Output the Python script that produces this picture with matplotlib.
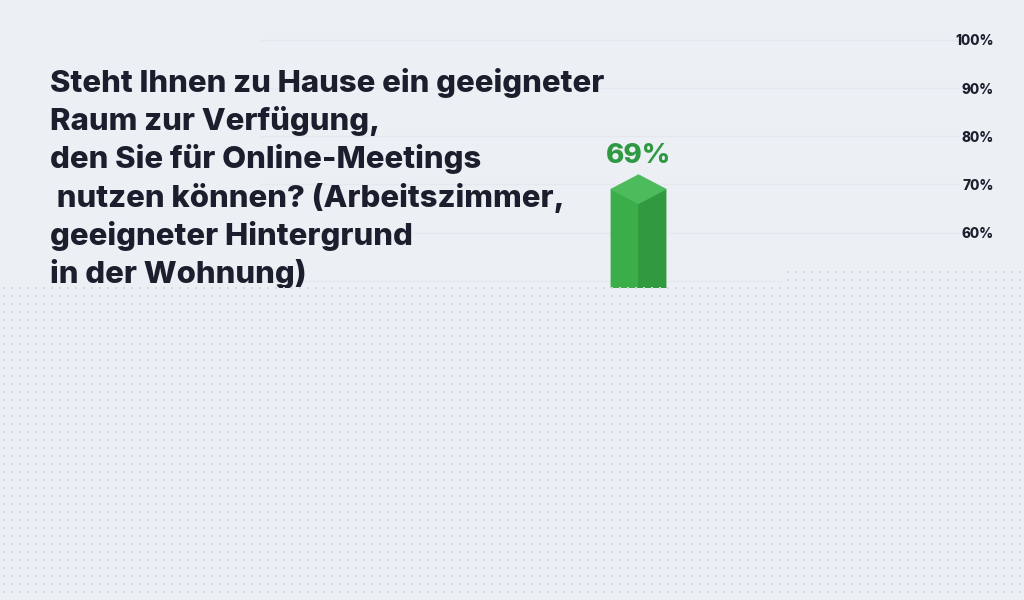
import matplotlib
matplotlib.use("Agg")
import matplotlib.pyplot as plt
from matplotlib.patches import Polygon
import numpy as np

# data
title_lines = [
    "Steht Ihnen zu Hause ein geeigneter",
    "Raum zur Verfügung,",
    "den Sie für Online-Meetings",
    " nutzen können? (Arbeitszimmer,",
    "geeigneter Hintergrund",
    "in der Wohnung)",
]
categories = ["Ja"]
values = [69]
y_ticks = [50, 60, 70, 80, 90, 100]
y_tick_labels = [f"{t}%" for t in y_ticks]

BG = "#eceff4"
DARK = "#1b1e2c"
FRONT = "#3bae4a"
SIDE = "#31993e"
TOP = "#4cbb5b"
LABEL = "#2f9843"
FONT = "Inter"

W, H = 1024, 600
fig = plt.figure(figsize=(W / 100, H / 100), dpi=100, facecolor=BG)


def px_box(x0, y0, x1, y1):
    # pixel box (top-left origin) -> figure fraction rect
    return [x0 / W, 1 - y1 / H, (x1 - x0) / W, (y1 - y0) / H]


# main chart axes
ax = fig.add_axes(px_box(260, 0, 960, 288), zorder=1)
ax.set_facecolor("none")
ax.set_ylim(48.47, 108.31)
ax.set_xlim(-378.5 / 55, 321.5 / 55)
for s in ax.spines.values():
    s.set_visible(False)
ax.set_xticks([])
ax.yaxis.tick_right()
ax.set_yticks(y_ticks)
ax.set_yticklabels(y_tick_labels)
ax.tick_params(axis="y", length=0, pad=24.5, labelsize=9.8, labelcolor=DARK)
for lab in ax.get_yticklabels():
    lab.set_horizontalalignment("right")
    lab.set_fontfamily(FONT)
    lab.set_fontweight("heavy")
ax.grid(axis="y", color="#e5e8ee", linewidth=1)
ax.set_axisbelow(True)

hw = 0.5   # half width in data units
dy = 3.0   # isometric rise in data units
for i, v in enumerate(values):
    # front (left) face
    ax.fill([i - hw, i, i, i - hw], [v, v - dy, 0, 0], color=FRONT, lw=0.6, zorder=3)
    # side (right) face
    ax.fill([i, i + hw, i + hw, i], [v - dy, v, 0, 0], color=SIDE, lw=0.6, zorder=3)
    # top
    ax.fill([i - hw, i, i + hw, i], [v, v + dy, v, v - dy], color=TOP, lw=0.6, zorder=3)
    ax.annotate(f"{v}%", xy=(i, v), xytext=(0, 24), textcoords="offset points",
                ha="center", va="center", fontsize=20, fontweight="heavy",
                color=LABEL, fontfamily=FONT, zorder=4)

# overlay axes in pixel coordinates: title and the dotted cover
ov = fig.add_axes([0, 0, 1, 1], zorder=2)
ov.set_facecolor("none")
ov.set_xlim(0, W)
ov.set_ylim(H, 0)
ov.axis("off")

baselines = [92, 130, 168, 207, 245, 283]
texts = []
for line, yb in zip(title_lines, baselines):
    t = ov.text(50, yb, line, fontsize=24, fontweight="heavy", color=DARK,
                fontfamily=FONT, va="baseline", ha="left", zorder=1)
    texts.append(t)

# fit first line width to ~553 px
renderer = fig.canvas.get_renderer()
w0 = texts[0].get_window_extent(renderer).width
scale = 553 / w0
for t in texts:
    t.set_fontsize(24 * scale)

cover = [(0, 288), (783, 288), (783, 272), (W, 272), (W, H), (0, H)]
ov.add_patch(Polygon(cover, closed=True, facecolor=BG, edgecolor="none", zorder=5))
gx, gy = np.meshgrid(np.arange(4, W, 8), np.arange(272, H, 8))
gx, gy = gx.ravel(), gy.ravel()
keep = (gy >= 288) | ((gx >= 783) & (gy >= 272))
ov.scatter(gx[keep], gy[keep], s=1.3, marker="s", color="#d5d9e1", linewidths=0, zorder=6)

fig.savefig("out.png", dpi=100, facecolor=BG)
